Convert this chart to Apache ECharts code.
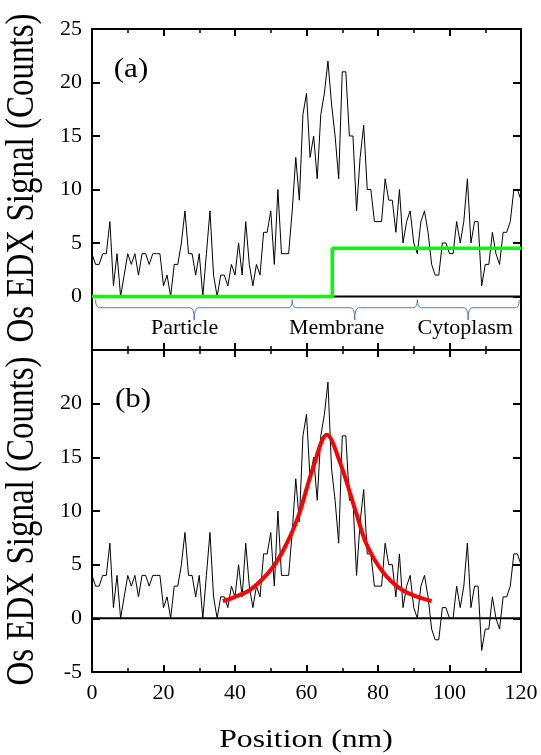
<!DOCTYPE html>
<html><head><meta charset="utf-8">
<script src="https://cdn.jsdelivr.net/npm/echarts@6/dist/echarts.min.js"></script>
<style>html,body{margin:0;padding:0;background:#fff}#c{width:541px;height:755px}</style>
</head><body><div id="c"></div>
<script>
// ---- data ----
const positions = [];
for (let i = 0; i <= 120; i++) positions.push(i);   // nm, 1 nm step
const rawCounts = [
 4,3,3,4,4,7,1,4,0,2, 4,3,4,2,4,4,3,4,4,4,
 1,2,0,3,3,5,8,4,4,2, 4,0,4,8,2,0,2,2,1,3,
 2,5,2,7,3,1,3,2,6,6, 8,3,10,4,4,4,8,13,9,17,
 19,13,15,11,17,19,22,18,15,11, 21,21,15,15,8,13,16,10,10,7,
 7,7,11,9,9,6,10,5,7,8, 5,4,7,8,6,3,2,2,5,5,
 4,4,7,5,7,11,5,7,7,1, 3,3,6,4,3,6,6,7,10,10, 9];
const correctedCounts = [
 4,3,3,4,4,7,1,4,0,2, 4,3,4,2,4,4,3,4,4,4,
 1,2,0,3,3,5,8,4,4,2, 4,0,4,8,2,0,2,2,1,3,
 2,5,2,7,3,1,3,2,6,6, 8,3,10,4,4,4,8,13,9,17,
 19,13,15,11,17,19,22,14,11,7, 17,17,11,11,4,9,12,6,6,3,
 3,3,7,5,5,2,6,1,3,4, 1,0,3,4,2,-1,-2,-2,1,1,
 0,0,3,1,3,7,1,3,3,-3, -1,-1,2,0,-1,2,2,3,6,6, 5];
const backgroundX = [0, 67.2, 120];
const backgroundY = [0, 4.5, 4.5];
const fitX = [36.6, 40, 44.6, 50.2, 53.9, 57.6, 61.8, 65.7, 69.3, 74.0, 76.8, 81.4, 87.0, 95.0];
const fitY = [1.6, 2.0, 2.75, 4.6, 6.6, 9.4, 14.0, 17.1, 14.6, 9.7, 6.9, 4.3, 2.6, 1.6];
const regionNames = ['Particle', 'Membrane', 'Cytoplasm'];
const regionStart = [1, 56, 91];
const regionEnd = [56, 91, 119.5];
const regionTip = [28.6, 73.5, 105.2];
const regionLabelX = [25.9, 68.4, 104.4];
const xTicks = [0, 20, 40, 60, 80, 100, 120];
const yTicks = [-5, 0, 5, 10, 15, 20, 25];

const FONT = "'Liberation Serif','Times New Roman',serif";
const chart = echarts.init(document.getElementById('c'), null, {renderer: 'canvas'});

function xAx(grid, pos, labels) {
  return {
    type: 'value', gridIndex: grid, position: pos, min: xTicks[0], max: xTicks[xTicks.length-1],
    interval: xTicks[1]-xTicks[0],
    axisLine: {show: true, onZero: false, lineStyle: {color: '#000', width: 2}},
    axisTick: {show: true, inside: true, length: 7, lineStyle: {color: '#000', width: 2}},
    minorTick: {show: true, splitNumber: 2, length: 4, lineStyle: {color: '#000', width: 1.5}},
    splitLine: {show: false},
    axisLabel: {show: labels, color: '#000', fontFamily: FONT, fontSize: 22, margin: 10}
  };
}
function yAx(grid, pos, labels, hideMin, hideMax) {
  return {
    type: 'value', gridIndex: grid, position: pos, min: yTicks[0], max: yTicks[yTicks.length-1],
    interval: yTicks[1]-yTicks[0],
    axisLine: {show: true, onZero: false, lineStyle: {color: '#000', width: 2}},
    axisTick: {show: true, inside: true, length: 8, lineStyle: {color: '#000', width: 2}},
    splitLine: {show: false},
    axisLabel: {show: labels, color: '#000', fontFamily: FONT, fontSize: 22, margin: 10,
      showMinLabel: !hideMin, showMaxLabel: !hideMax}
  };
}

const braceData = regionNames.map((n, i) => ({name: n, value: [regionStart[i], regionEnd[i], regionTip[i], regionLabelX[i]]}));

const option = {
  animation: false,
  backgroundColor: '#fff',
  grid: [
    {left: 92, right: 20, top: 29, height: 321},
    {left: 92, right: 20, top: 350, height: 322}
  ],
  xAxis: [xAx(0, 'bottom', false), xAx(0, 'top', false), xAx(1, 'bottom', true), xAx(1, 'top', false)],
  yAxis: [yAx(0, 'left', true, true, false), yAx(0, 'right', false), yAx(1, 'left', true, false, true), yAx(1, 'right', false)],
  series: [
    {type: 'line', xAxisIndex: 0, yAxisIndex: 0, data: [[0,0],[120,0]], symbol: 'none',
     lineStyle: {color: '#000', width: 2}, z: 2},
    {type: 'line', xAxisIndex: 0, yAxisIndex: 0, data: positions.map((x, i) => [x, rawCounts[i]]),
     symbol: 'none', lineStyle: {color: '#000', width: 1}, z: 3},
    {type: 'line', xAxisIndex: 0, yAxisIndex: 0, step: 'end',
     data: backgroundX.map((x, i) => [x, backgroundY[i]]), symbol: 'none',
     lineStyle: {color: '#00ff00', width: 3.5}, z: 4},
    {type: 'custom', xAxisIndex: 0, yAxisIndex: 0, data: braceData, z: 5,
     renderItem: function (params, api) {
       const s = api.value(0), e = api.value(1), t = api.value(2), lx = api.value(3);
       const a = api.coord([s, -0.3]), m0 = api.coord([s, -1.05]);
       const b = api.coord([e, -0.3]);
       const tp = api.coord([t, -2.2]), tm = api.coord([t, -1.05]);
       const my = m0[1], r = 4;
       const d = 'M' + a[0] + ' ' + a[1] + ' Q' + a[0] + ' ' + my + ' ' + (a[0]+r) + ' ' + my +
         ' L' + (tm[0]-r) + ' ' + my + ' Q' + tm[0] + ' ' + my + ' ' + tp[0] + ' ' + tp[1] +
         ' Q' + tm[0] + ' ' + my + ' ' + (tm[0]+r) + ' ' + my +
         ' L' + (b[0]-r) + ' ' + my + ' Q' + b[0] + ' ' + my + ' ' + b[0] + ' ' + b[1];
       const lp = api.coord([lx, -3.0]);
       return {type: 'group', children: [
         {type: 'path', shape: {pathData: d}, style: {stroke: '#4f81bd', fill: null, lineWidth: 1}},
         {type: 'text', x: lp[0], y: lp[1], style: {text: regionNames[params.dataIndex], fill: '#000',
           font: '22px ' + FONT, align: 'center', verticalAlign: 'middle'}}
       ]};
     }},
    {type: 'line', xAxisIndex: 2, yAxisIndex: 2, data: [[0,0],[120,0]], symbol: 'none',
     lineStyle: {color: '#000', width: 2}, z: 2},
    {type: 'line', xAxisIndex: 2, yAxisIndex: 2, data: positions.map((x, i) => [x, correctedCounts[i]]),
     symbol: 'none', lineStyle: {color: '#000', width: 1}, z: 3},
    {type: 'line', xAxisIndex: 2, yAxisIndex: 2, data: fitX.map((x, i) => [x, fitY[i]]), smooth: 0.35,
     symbol: 'none', lineStyle: {color: '#ff0000', width: 4}, z: 4}
  ],
  graphic: [
    {type: 'text', x: 131, y: 70, style: {text: '(a)', font: '27px ' + FONT, fill: '#000', align: 'center', verticalAlign: 'middle'}, scaleX: 1.15},
    {type: 'text', x: 133, y: 400, style: {text: '(b)', font: '27px ' + FONT, fill: '#000', align: 'center', verticalAlign: 'middle'}, scaleX: 1.15},
    {type: 'text', x: 23, y: 178, rotation: Math.PI / 2, scaleY: 1.2,
     style: {text: 'Os EDX Signal (Counts)', font: '33px ' + FONT, fill: '#000', align: 'center', verticalAlign: 'middle'}},
    {type: 'text', x: 23, y: 521, rotation: Math.PI / 2, scaleY: 1.2,
     style: {text: 'Os EDX Signal (Counts)', font: '33px ' + FONT, fill: '#000', align: 'center', verticalAlign: 'middle'}},
    {type: 'text', x: 306, y: 740, scaleX: 1.22,
     style: {text: 'Position (nm)', font: '26px ' + FONT, fill: '#000', align: 'center', verticalAlign: 'middle'}}
  ]
};
chart.setOption(option);
</script>
</body></html>
